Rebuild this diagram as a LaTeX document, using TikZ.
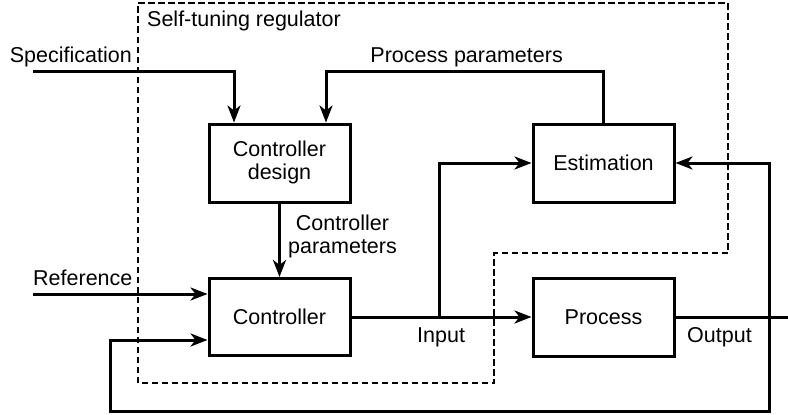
\documentclass[tikz,border=0pt]{standalone}
\usepackage{fontspec}
\setmainfont{Liberation Sans}
\usetikzlibrary{arrows.meta,calc}
\begin{document}
\begin{tikzpicture}[x=1pt,y=-1pt,
  every node/.style={font=\fontsize{21.5}{23}\selectfont},
  blk/.style={draw,line width=3pt,minimum width=141pt,minimum height=78pt,inner sep=0pt,align=center},
  conn/.style={line width=3pt},
  arr/.style={conn,-{Stealth[length=17pt,width=13pt,inset=5pt]}},
  bound/.style={line width=1.7pt,dash pattern=on 6.5pt off 3.5pt},
  lbl/.style={inner sep=0pt,align=center}]
\useasboundingbox (0,0) rectangle (788,415);

% boundary of the self-tuning regulator
\draw[bound] (138,3) -- (728,3) -- (728,253) -- (494,253) -- (494,383) -- (138,383) -- cycle;
\node[lbl,anchor=base west] (str) at (147,27) {Self-tuning regulator};

% blocks
\node[blk] (cd) at (279.5,163) {\raisebox{-2pt}{\begin{tabular}{@{}c@{}}Controller\\design\end{tabular}}};
\node[blk] (est) at (603.5,163) {Estimation};
\node[blk,minimum height=77pt] (ctl) at (279.5,317) {Controller};
\node[blk] (proc) at (603.5,317) {Process};

% coordinates
\coordinate (specL) at (33,71);
\coordinate (spc) at (234,71);
\coordinate (ppc) at (326,71);
\coordinate (refL) at (33,294);
\coordinate (br1) at (439,317);
\coordinate (br2) at (769,317);
\coordinate (outR) at (788,317);
\coordinate (fbL) at (110,411);

% connectors
\draw[arr] (specL) -- (spc) -- (spc |- cd.north);
\draw[arr] (est.north) |- (ppc) -- (ppc |- cd.north);
\draw[arr] (cd) -- (ctl);
\draw[arr] (refL) -- (refL -| ctl.west);
\draw[arr] (ctl) -- (proc);
\draw[arr] (br1) |- (est.west);
\draw[conn] (proc.east) -- (outR);
\draw[arr] (br2) |- (est.east);
\draw[arr] (br2) |- (fbL) |- ([yshift=-23pt]ctl.west);

% labels
\node[lbl,anchor=base east] (lspec) at (132,62.5) {Specification};
\node[lbl,anchor=base east] (lpp) at (563,62) {Process parameters};
\node[lbl,anchor=base] (lcp) at (342.5,253.5) {Controller\\parameters};
\node[lbl,anchor=base west] (lref) at (33,285) {Reference};
\node[lbl,anchor=base west] (lin) at (417,342) {Input};
\node[lbl,anchor=base west] (lout) at (687,342) {Output};
\end{tikzpicture}
\end{document}
